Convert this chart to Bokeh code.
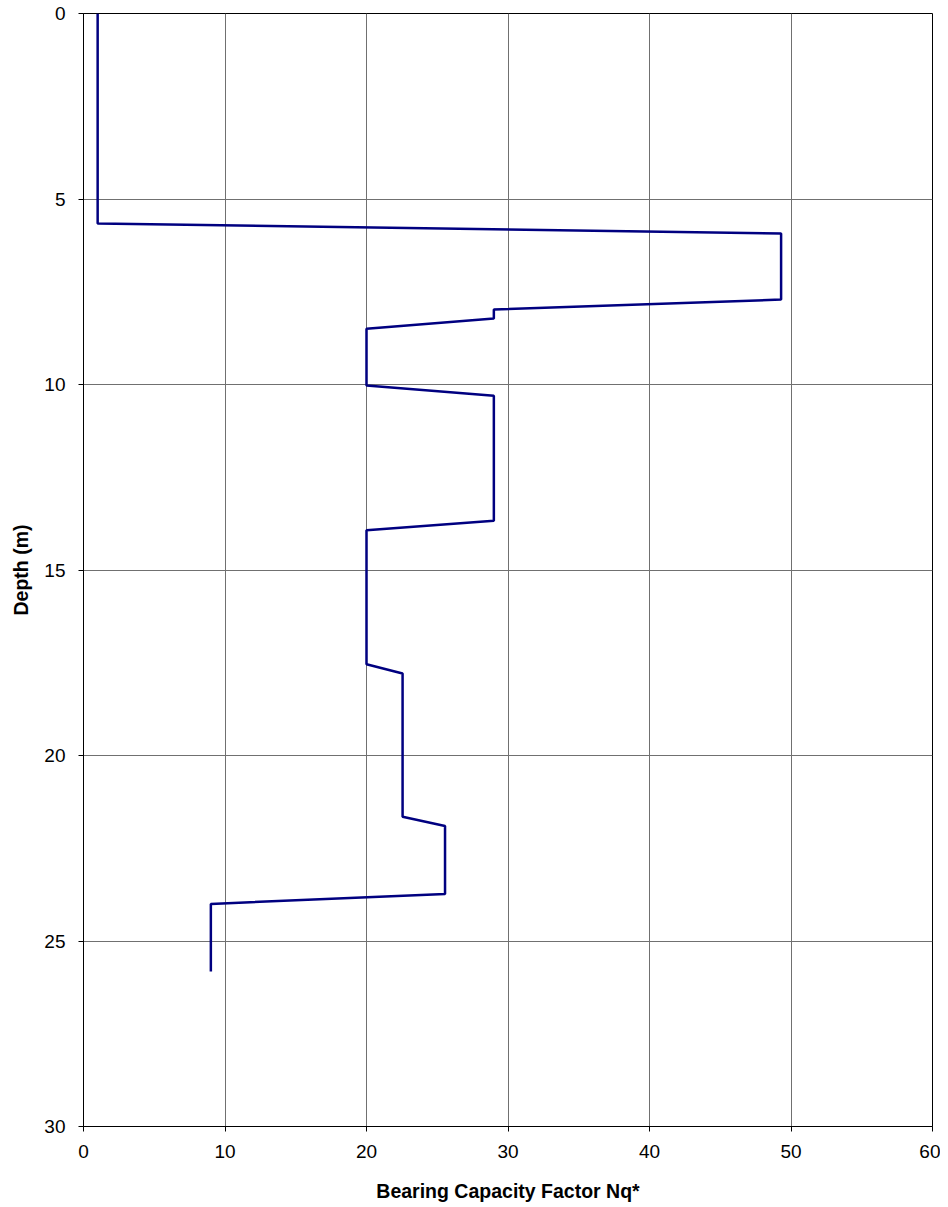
from bokeh.plotting import figure
from bokeh.models import Range1d, FixedTicker
from bokeh.embed import file_html
from bokeh.resources import INLINE

# Data
nq_values = [1.0, 1.0, 49.3, 49.3, 29.0, 29.0, 20.0, 20.0, 29.0, 29.0,
             20.0, 20.0, 22.55, 22.55, 25.55, 25.55, 9.0, 9.0]
depth_values = [0.0, 5.66, 5.93, 7.71, 7.98, 8.22, 8.5, 10.03, 10.3, 13.67,
                13.93, 17.54, 17.79, 21.65, 21.9, 23.73, 24.0, 25.82]
x_ticks = [0, 10, 20, 30, 40, 50, 60]
y_ticks = [0, 5, 10, 15, 20, 25, 30]

p = figure(width=940, height=1206, output_backend="svg", toolbar_location=None,
           x_range=Range1d(0, 60), y_range=Range1d(30, 0),
           min_border_left=83, min_border_right=8, min_border_top=13,
           min_border_bottom=80)

p.line(nq_values, depth_values, line_color="#000080", line_width=2.5)

font = "Liberation Sans"
for ax in (p.xaxis, p.yaxis):
    ax.axis_line_color = "black"
    ax.axis_line_width = 1
    ax.major_tick_line_color = "black"
    ax.major_tick_out = 5
    ax.major_tick_in = 0
    ax.minor_tick_line_color = None
    ax.major_label_text_font = font
    ax.major_label_text_font_size = "19px"
    ax.major_label_text_color = "black"
    ax.axis_label_text_font = font
    ax.axis_label_text_font_size = "19.5px"
    ax.axis_label_text_font_style = "bold"
    ax.axis_label_text_color = "black"

p.xaxis.ticker = FixedTicker(ticks=x_ticks)
p.yaxis.ticker = FixedTicker(ticks=y_ticks)
p.xaxis.axis_label = "Bearing Capacity Factor Nq*"
p.yaxis.axis_label = "Depth (m)"
p.xaxis.major_label_standoff = 13
p.yaxis.major_label_standoff = 13
p.xaxis.axis_label_standoff = 19
p.yaxis.axis_label_standoff = 9

p.xgrid.ticker = FixedTicker(ticks=x_ticks)
p.ygrid.ticker = FixedTicker(ticks=y_ticks)
for g in (p.xgrid, p.ygrid):
    g.grid_line_color = "#707070"
    g.grid_line_width = 1

p.outline_line_color = "black"
p.outline_line_width = 1
p.background_fill_color = "white"
p.border_fill_color = "white"

open("out.html", "w").write(file_html(p, INLINE))
